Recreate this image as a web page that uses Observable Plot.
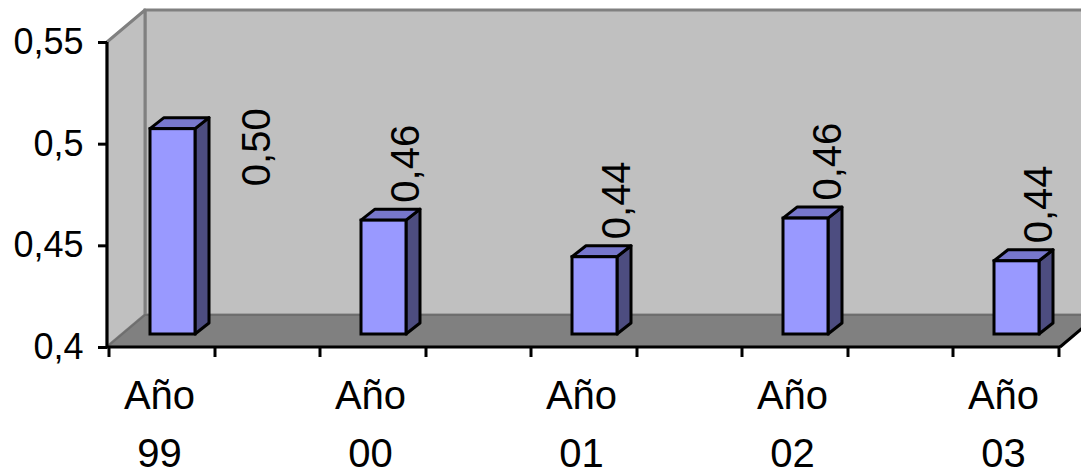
<!DOCTYPE html>
<html><head><meta charset="utf-8">
<script src="https://cdn.jsdelivr.net/npm/d3@7"></script>
<script src="https://cdn.jsdelivr.net/npm/@observablehq/plot@0.6"></script>
<style>html,body{margin:0;padding:0;background:#fff;overflow:hidden}</style>
</head><body><div id="chart"></div>
<script>
const categories = ["Año 99", "Año 00", "Año 01", "Año 02", "Año 03"];
const values = [0.501, 0.456, 0.438, 0.457, 0.436];
const yTicks = [0.4, 0.45, 0.5, 0.55];
const yDomain = [0.4, 0.55];

const data = categories.map((c, i) => ({cat: c, value: values[i]}));

// styling constants (pixel offsets for the pseudo-3D look)
const WALL = [38, -32];
const BAR_DEPTH = [14, -11];
const BAR_SHIFT = [15, -13];
const INSET = [26, 35];
const W = 1081, H = 473;
const M = {left: 107, right: 21, top: 42, bottom: 126};

const fmtTick = d => String(d).replace(".", ",");
const fmtVal = d => d.toFixed(2).replace(".", ",");

function bandwidthOf(scales, dim) {
  if (scales.x && typeof scales.x.bandwidth === "function") return scales.x.bandwidth();
  const n = categories.length;
  const step = (dim.width - dim.marginLeft - dim.marginRight) / (n - 0.5);
  return step * 0.5;
}

function walls(index, scales, values, dim) {
  const L = dim.marginLeft, R = dim.width - dim.marginRight;
  const yb = scales.y(yDomain[0]), yt = scales.y(yDomain[1]);
  const [dx, dy] = WALL;
  const g = d3.create("svg:g");
  g.append("rect").attr("x", L + dx).attr("y", yt + dy).attr("width", R - L).attr("height", yb - yt)
    .attr("fill", "#c0c0c0").attr("stroke", "#808080").attr("stroke-width", 3);
  g.append("path").attr("d", `M${L},${yt}L${L + dx},${yt + dy}L${L + dx},${yb + dy}L${L},${yb}Z`)
    .attr("fill", "#c0c0c0").attr("stroke", "#808080").attr("stroke-width", 3).attr("stroke-linejoin", "round");
  g.append("path").attr("d", `M${L},${yb}L${L + dx},${yb + dy}L${R + dx},${yb + dy}L${R},${yb}Z`)
    .attr("fill", "#808080").attr("stroke", "#6e6e6e").attr("stroke-width", 2);
  g.append("line").attr("x1", R).attr("y1", yb).attr("x2", R + dx).attr("y2", yb + dy)
    .attr("stroke", "#000").attr("stroke-width", 3);
  return g.node();
}

function barFaces(index, scales, values, dim) {
  const bw = bandwidthOf(scales, dim);
  const g = d3.create("svg:g").attr("stroke", "#000").attr("stroke-width", 3).attr("stroke-linejoin", "round");
  const [ddx, ddy] = BAR_DEPTH;
  for (const d of data) {
    const bx = scales.x(d.cat);
    const x0 = bx + INSET[0] + BAR_SHIFT[0], x1 = bx + bw - INSET[1] + BAR_SHIFT[0];
    const yT = scales.y(d.value) + BAR_SHIFT[1], yB = scales.y(yDomain[0]) + BAR_SHIFT[1];
    g.append("path").attr("d", `M${x1},${yT}L${x1 + ddx},${yT + ddy}L${x1 + ddx},${yB + ddy}L${x1},${yB}Z`).attr("fill", "#4d4d80");
    g.append("path").attr("d", `M${x0},${yT}L${x1},${yT}L${x1 + ddx},${yT + ddy}L${x0 + ddx},${yT + ddy}Z`).attr("fill", "#7777cc");
  }
  return g.node();
}

function axisLines(index, scales, values, dim) {
  const L = dim.marginLeft, R = dim.width - dim.marginRight;
  const yb = scales.y(yDomain[0]), yt = scales.y(yDomain[1]);
  const bw = bandwidthOf(scales, dim);
  const g = d3.create("svg:g").attr("stroke", "#000").attr("stroke-width", 3);
  g.append("line").attr("x1", L).attr("x2", L).attr("y1", yt).attr("y2", yb);
  g.append("line").attr("x1", L).attr("x2", R).attr("y1", yb).attr("y2", yb);
  for (const c of categories) {
    for (const x of [scales.x(c), scales.x(c) + bw]) {
      g.append("line").attr("x1", x).attr("x2", x).attr("y1", yb).attr("y2", yb + 10);
    }
  }
  return g.node();
}

const chart = Plot.plot({
  width: W,
  height: H,
  marginLeft: M.left,
  marginRight: M.right,
  marginTop: M.top,
  marginBottom: M.bottom,
  style: {fontFamily: "'Liberation Sans', Arial, sans-serif", background: "#fff", color: "#000", overflow: "hidden"},
  x: {type: "band", domain: categories, paddingInner: 0.5, paddingOuter: 0, axis: null},
  y: {domain: yDomain, label: null},
  marks: [
    walls,
    barFaces,
    Plot.barY(data, {x: "cat", y1: yDomain[0], y2: "value", fill: "#9999ff", stroke: "#000", strokeWidth: 3,
      insetLeft: INSET[0], insetRight: INSET[1], dx: BAR_SHIFT[0], dy: BAR_SHIFT[1]}),
    axisLines,
    Plot.axisY({ticks: yTicks, tickFormat: fmtTick, tickSize: 9, tickPadding: 15, fontSize: 36, strokeWidth: 3, label: null}),
    Plot.text(data.slice(1), {x: "cat", y: "value", text: d => fmtVal(d.value), rotate: -90, textAnchor: "start",
      dx: 33, dy: -31, fontSize: 40, fill: "#000"}),
    Plot.text(data.slice(0, 1), {x: "cat", y: "value", text: d => fmtVal(d.value), rotate: -90, textAnchor: "start",
      dx: 95, dy: 44, fontSize: 40, fill: "#000"}),
    Plot.text(categories, {x: d => d, frameAnchor: "bottom", text: d => d.replace(" ", "\n"), lineAnchor: "top",
      dx: -3, dy: 20, fontSize: 40, lineHeight: 1.45, fill: "#000"})
  ]
});
document.getElementById("chart").appendChild(chart);
</script>
</body></html>
